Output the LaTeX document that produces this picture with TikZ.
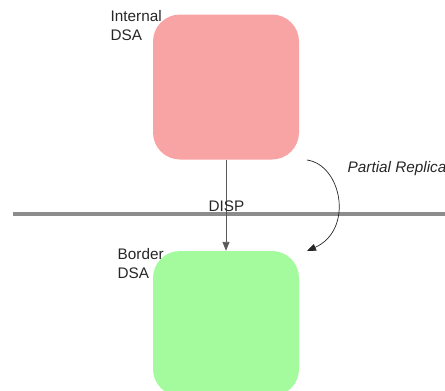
\documentclass[tikz,border=0pt]{standalone}
\usepackage{fontspec}
\setmainfont{Liberation Sans}
\usetikzlibrary{arrows.meta}
\definecolor{dsared}{HTML}{F9A4A4}
\definecolor{dsagreen}{HTML}{A3FB9D}
\definecolor{wall}{HTML}{8C8C8C}
\tikzset{
  dsabox/.style={fill=#1, draw=none, rounded corners=27pt, minimum width=146pt, minimum height=145pt, inner sep=0pt},
  lbl/.style={font=\fontsize{15.3}{19}\selectfont, align=left, inner sep=0pt, text=black!85},
  link/.style={draw=black!65, line width=0.9pt, -{Triangle[length=9pt,width=7pt]}},
}
\begin{document}
\begin{tikzpicture}[x=1pt,y=-1pt]
\useasboundingbox (0,0) rectangle (445,391);
\begin{scope}
\clip (0,0) rectangle (445,391);
% the two DSAs
\node[dsabox=dsared] (internal) at (226,87) {};
\node[dsabox=dsagreen] (border) at (226,323.5) {};
% boundary line
\coordinate (wl) at (13,214);
\coordinate (wr) at (445,214);
\draw[wall, line width=3.2pt] (wl) -- (wr);
% DISP connection
\draw[link] (internal.south) -- (border.north);
\node[lbl, anchor=base] (disp) at (226.5,211.5) {DISP};
% replication arc
\coordinate (rs) at (307,160);
\coordinate (re) at (307,251);
\draw[link, draw=black!85, line width=0.7pt] (rs) .. controls (342,165) and (354,230) .. (re);
\node[lbl, anchor=base west, font=\fontsize{15.3}{19}\selectfont\itshape] (rep) at (347.5,172) {Partial Replica};
% labels
\node[lbl, anchor=north west] (ilbl) at (110.5,10.5) {Internal\\DSA};
\node[lbl, anchor=north west] (blbl) at (117.5,248.5) {Border\\DSA};
\end{scope}
\end{tikzpicture}
\end{document}
